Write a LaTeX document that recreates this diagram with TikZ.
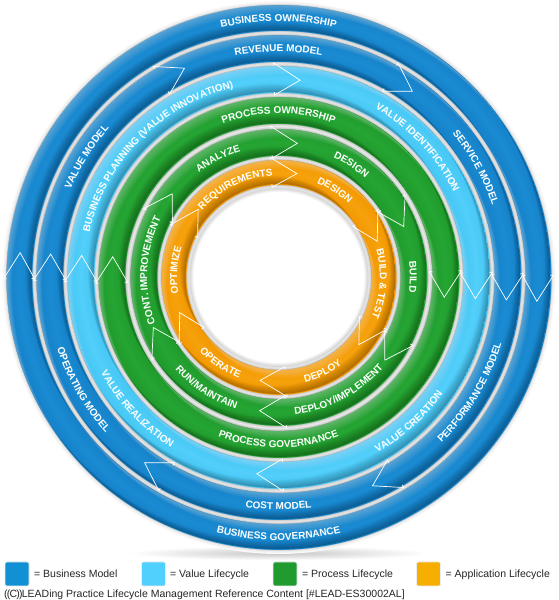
\documentclass[tikz,border=0pt]{standalone}
\usepackage{fontspec}
\setmainfont{Liberation Sans}
\usetikzlibrary{decorations.text,calc}

\definecolor{blueE}{HTML}{1581C9}
\definecolor{blueM}{HTML}{1A8BD2}
\definecolor{lblueE}{HTML}{45C6F4}
\definecolor{lblueM}{HTML}{52CFFA}
\definecolor{greenE}{HTML}{1F9A2C}
\definecolor{greenM}{HTML}{25A533}
\definecolor{orangeE}{HTML}{F39700}
\definecolor{orangeM}{HTML}{F6A20C}
\definecolor{grayE}{HTML}{BFBFBF}
\definecolor{grayM}{HTML}{EBEBEB}
\definecolor{grayS}{HTML}{D6D6D6}
\definecolor{grayO}{HTML}{F3F3F3}
\definecolor{legBiz}{HTML}{1190D3}
\definecolor{legVal}{HTML}{4FD0FD}
\definecolor{legPro}{HTML}{1F9B2F}
\definecolor{legApp}{HTML}{F6AE00}

\pgfdeclareradialshading{ringshading}{\pgfpoint{0pt}{0pt}}{%
color(0pt)=(white); color(85pt)=(white); color(89pt)=(grayS);
color(90.5pt)=(grayM); color(92.7pt)=(grayE);
color(93pt)=(orangeE); color(105pt)=(orangeM); color(117pt)=(orangeE);
color(117.3pt)=(grayE); color(119.5pt)=(grayM); color(121.7pt)=(grayE);
color(122pt)=(greenE); color(135pt)=(greenM); color(148pt)=(greenE);
color(148.3pt)=(grayE); color(151pt)=(grayM); color(153.7pt)=(grayE);
color(154pt)=(greenE); color(167pt)=(greenM); color(180pt)=(greenE);
color(180.3pt)=(grayE); color(182.5pt)=(grayM); color(184.7pt)=(grayE);
color(185pt)=(lblueE); color(198pt)=(lblueM); color(211pt)=(lblueE);
color(211.3pt)=(grayE); color(213.5pt)=(grayM); color(215.7pt)=(grayE);
color(216pt)=(blueE); color(229pt)=(blueM); color(242pt)=(blueE);
color(242.3pt)=(grayE); color(244.5pt)=(grayM); color(246.7pt)=(grayE);
color(247pt)=(blueE); color(259.5pt)=(blueM); color(272pt)=(blueE);
color(272.3pt)=(grayE); color(273.5pt)=(grayM); color(275pt)=(grayO);
color(277pt)=(white); color(280pt)=(white)}

\newcommand\lblfont{\bfseries\fontsize{10}{12}\selectfont}
% clockwise label (tops outward): #1 mid radius, #2 centre angle, #3 text
\newcommand\cwlabel[3]{%
  \pgfmathsetmacro\rb{#1-3.6}%
  \pgfmathsetmacro\sa{#2+70}%
  \pgfmathsetmacro\ea{#2-70}%
  \path[decorate,decoration={text along path,text={|\lblfont|#3},text align=center,text color=white}]
    ($(C)+(\sa:\rb)$) arc[start angle=\sa, end angle=\ea, radius=\rb];}
% counter-clockwise label (tops inward)
\newcommand\ccwlabel[3]{%
  \pgfmathsetmacro\rb{#1+3.6}%
  \pgfmathsetmacro\sa{#2-70}%
  \pgfmathsetmacro\ea{#2+70}%
  \path[decorate,decoration={text along path,text={|\lblfont|#3},text align=center,text color=white}]
    ($(C)+(\sa:\rb)$) arc[start angle=\sa, end angle=\ea, radius=\rb];}
% directional soft light (from upper left) on a band #1..#2
\newcommand\bandlight[2]{%
  \begin{scope}[even odd rule]
    \clip (C) circle (#2) (C) circle (#1);
    \foreach \dd in {1,2,...,10} {
      \fill[white, opacity=0.035] (C) circle (#2) (C) circle (#1)
        ($(C)+(-55:\dd)$) circle (#2) ($(C)+(-55:\dd)$) circle (#1);
      \fill[black, opacity=0.028] (C) circle (#2) (C) circle (#1)
        ($(C)+(125:\dd)$) circle (#2) ($(C)+(125:\dd)$) circle (#1);
    }
  \end{scope}}

\tikzset{
  chev/.style={draw=white, line width=0.7pt, line join=miter},
  legbox/.style={minimum size=24pt, inner sep=0pt, rounded corners=2pt, draw=white!85!gray, line width=0.6pt},
  legtext/.style={anchor=base west, inner sep=0pt, font=\fontsize{10.5}{12}\selectfont, text=black!85},
}

\begin{document}
\begin{tikzpicture}[x=1pt,y=1pt]
\useasboundingbox (0,0) rectangle (558,600);
\fill[white] (0,0) rectangle (558,600);
\coordinate (C) at (278.5,323);

% soft shadow under the rings
\shade[inner color=gray!45, outer color=white] (278.5,47) ellipse (150 and 7);

% the rings
\begin{scope}
  \clip (C) circle (277);
  \node[inner sep=0pt, outer sep=0pt] (rings) at (C) {\pgfuseshading{ringshading}};
\end{scope}
\bandlight{247}{272}
\bandlight{216}{242}
\bandlight{185}{211}
\bandlight{154}{180}
\bandlight{122}{148}
\bandlight{93}{117}

% arrow heads (white chevrons)
\foreach \ri/\ro/\off/\bl in {247/272/2.5/{180,0},
                              216/242/2.5/{180,120,60,0,-60,-120},
                              185/211/2.5/{180,90,0,-90},
                              154/180/2.5/{180,0},
                              122/148/2.5/{150,90,30,-30,-90,-150},
                              93/117/3/{150,90,30,-30,-90,-150}} {
  \foreach \bd in \bl {
    \pgfmathsetmacro\rmid{(\ri+\ro)/2}
    \pgfmathsetmacro\hh{13/\rmid*57.2958}
    \pgfmathsetmacro\ba{\bd-\off+\hh}
    \pgfmathsetmacro\ti{\bd-\off-\hh}
    \draw[chev] ($(C)+(\ba:\ri)$) -- ($(C)+(\ba:\ri-3)$) -- ($(C)+(\ti:\rmid)$)
                -- ($(C)+(\ba:\ro+3)$) -- ($(C)+(\ba:\ro)$);
  }
}

% ring 1
\cwlabel{259.5}{90}{BUSINESS OWNERSHIP}
\ccwlabel{259.5}{-90}{BUSINESS GOVERNANCE}
% ring 2
\cwlabel{229}{148}{VALUE MODEL}
\cwlabel{229}{90}{REVENUE MODEL}
\cwlabel{229}{29}{SERVICE MODEL}
\ccwlabel{229}{-31}{PERFORMANCE MODEL}
\ccwlabel{229}{-90}{COST MODEL}
\ccwlabel{229}{-150}{OPERATING MODEL}
% ring 3
\cwlabel{198}{135}{BUSINESS PLANNING (VALUE INNOVATION)}
\cwlabel{198}{43}{VALUE IDENTIFICATION}
\ccwlabel{198}{-48}{VALUE CREATION}
\ccwlabel{198}{-137}{VALUE REALIZATION}
% ring 4
\cwlabel{167}{90}{PROCESS OWNERSHIP}
\ccwlabel{167}{-90}{PROCESS GOVERNANCE}
% ring 5
\cwlabel{135}{117}{ANALYZE}
\cwlabel{135}{57}{DESIGN}
\cwlabel{135}{0}{BUILD}
\ccwlabel{135}{-62}{DEPLOY/IMPLEMENT}
\ccwlabel{135}{-123}{RUN/MAINTAIN}
\cwlabel{135}{177}{CONT. IMPROVEMENT}
% ring 6
\cwlabel{105}{116}{REQUIREMENTS}
\cwlabel{105}{57}{DESIGN}
\cwlabel{105}{-4}{BUILD {\&} TEST}
\ccwlabel{105}{-65}{DEPLOY}
\ccwlabel{105}{-124}{OPERATE}
\cwlabel{105}{176}{OPTIMIZE}

% legend
\node[legbox, fill=legBiz] (lb1) at (17,26) {};
\node[legtext] (lt1) at (34,22) {= Business Model};
\node[legbox, fill=legVal] (lb2) at (153.5,26) {};
\node[legtext] (lt2) at (170,22) {= Value Lifecycle};
\node[legbox, fill=legPro] (lb3) at (285,26) {};
\node[legtext] (lt3) at (302,22) {= Process Lifecycle};
\node[legbox, fill=legApp] (lb4) at (428.5,26) {};
\node[legtext] (lt4) at (445.5,22) {= Application Lifecycle};

\node[anchor=base west, inner sep=0pt, font=\fontsize{10.5}{12}\selectfont, text=black!85] (footer) at (4,2.5)
  {(\kern-0.9pt(\kern-0.7ptC\kern-0.7pt)\kern-0.9pt)\kern-0.7ptLEADing Practice Lifecycle Management Reference Content [\#LEAD-ES30002AL]};
\end{tikzpicture}
\end{document}
